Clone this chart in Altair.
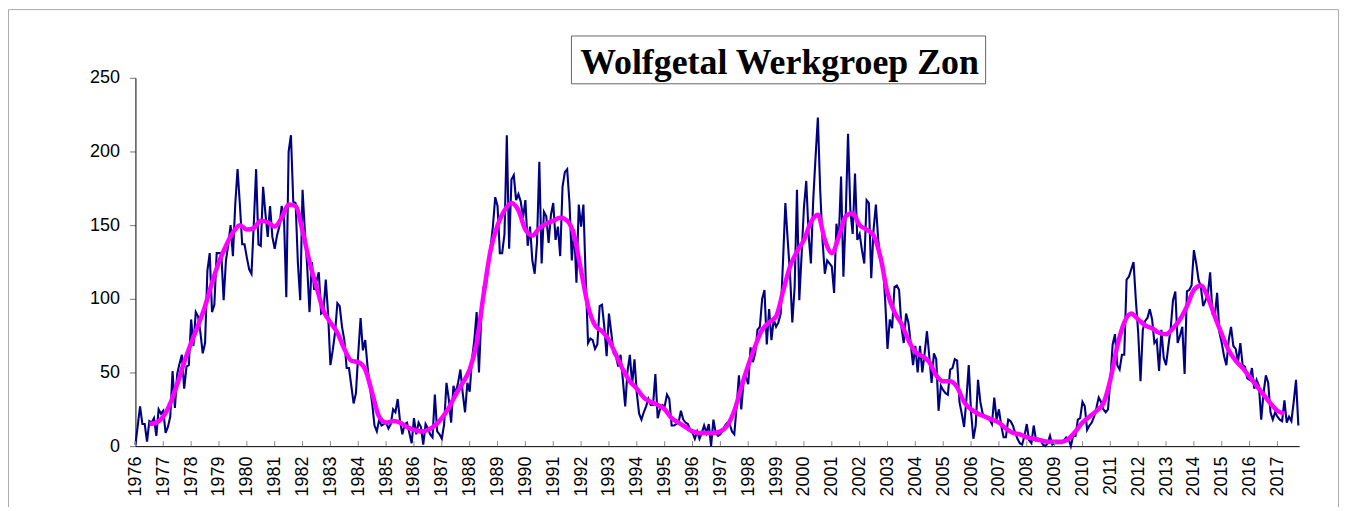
import altair as alt
import pandas as pd

# ---- data ----
years = list(range(1976, 2018))
y_ticks = [0, 50, 100, 150, 200, 250]
title_text = "Wolfgetal Werkgroep Zon"

# monthly Wolf numbers, Jan 1976 .. Oct 2017
raw_1976_1985 = [
    1, 14, 27, 15, 15, 3, 17, 16, 19, 7, 25, 22,
    24, 9, 13, 20, 51, 26, 49, 56, 62, 39, 54, 55,
    86, 68, 91, 88, 77, 63, 70, 119, 131, 91, 96, 131,
    131, 131, 99, 126, 137, 150, 129, 164, 188, 164, 137, 137,
    128, 120, 117, 151, 188, 137, 136, 176, 158, 142, 163, 142,
    134, 143, 149, 163, 155, 101, 200, 211, 166, 165, 124, 99,
    174, 146, 122, 91, 125, 106, 112, 118, 90, 91, 113, 90,
    55, 65, 77, 97, 95, 81, 72, 53, 53, 41, 29, 36,
    63, 87, 65, 72, 54, 40, 29, 14, 10, 18, 14, 15,
    16, 12, 15, 25, 23, 32, 17, 8, 15, 16, 9, 2,
]
raw_1986_1995 = [
    19, 8, 16, 13, 1, 15, 12, 8, 6, 35, 10, 8,
    5, 15, 43, 32, 16, 41, 36, 43, 52, 36, 23, 43,
    37, 59, 72, 91, 50, 88, 108, 108, 122, 135, 149, 169,
    163, 131, 131, 144, 211, 134, 181, 184, 167, 171, 166, 155,
    167, 136, 149, 126, 117, 138, 193, 124, 159, 156, 138, 157,
    165, 140, 149, 129, 176, 186, 188, 165, 126, 147, 111, 164,
    149, 164, 113, 70, 73, 72, 66, 69, 95, 96, 81, 61,
    90, 77, 63, 61, 54, 62, 45, 27, 51, 62, 42, 59,
    36, 22, 18, 23, 27, 32, 28, 28, 49, 19, 25, 28,
    27, 35, 32, 14, 14, 15, 16, 24, 18, 16, 15, 11,
]
raw_1996_2005 = [
    9, 5, 10, 5, 9, 14, 9, 15, 0, 18, 9, 7,
    8, 11, 14, 16, 15, 10, 8, 27, 48, 25, 44, 47,
    42, 67, 57, 63, 79, 81, 100, 106, 69, 93, 72, 86,
    81, 84, 90, 126, 165, 140, 117, 84, 108, 174, 99, 130,
    162, 180, 144, 124, 167, 196, 223, 174, 140, 117, 126, 124,
    122, 104, 151, 140, 183, 115, 156, 212, 160, 144, 185, 140,
    144, 133, 124, 167, 165, 114, 147, 164, 140, 126, 124, 99,
    66, 86, 80, 108, 109, 106, 81, 70, 90, 84, 70, 55,
    68, 50, 68, 50, 63, 78, 61, 43, 63, 59, 24, 41,
    38, 36, 35, 52, 53, 59, 58, 30, 22, 13, 32, 55,
]
raw_2006_2017 = [
    23, 5, 14, 45, 30, 22, 20, 19, 18, 15, 33, 18,
    25, 14, 6, 6, 18, 17, 14, 9, 5, 2, 1, 7,
    15, 4, 2, 14, 4, 5, 4, 1, 0, 2, 7, 1,
    2, 2, 2, 2, 4, 6, 5, 0, 7, 7, 18, 19,
    30, 27, 11, 14, 16, 20, 26, 33, 30, 25, 23, 25,
    45, 69, 76, 55, 52, 62, 62, 113, 115, 120, 125, 99,
    77, 44, 79, 85, 87, 93, 86, 70, 72, 51, 79, 60,
    55, 68, 80, 99, 105, 70, 75, 81, 49, 105, 106, 109,
    133, 124, 113, 108, 95, 99, 103, 118, 90, 88, 104, 77,
    70, 61, 55, 72, 81, 68, 66, 57, 70, 55, 54, 46,
    45, 53, 39, 45, 41, 18, 36, 48, 43, 23, 18, 23,
    20, 18, 17, 31, 16, 20, 17, 30, 45, 14,
]

# smoothed curve, read every quarter from mid-1976 to spring 2017
smooth_start = 1976.5
smooth_1976_1996 = [
    15, 16,
    20, 29, 42, 57,
    70, 82, 95, 111,
    125, 136, 145, 150,
    147, 148, 153, 152,
    149, 155, 164, 163,
    146, 125, 108, 92,
    84, 77, 66, 58,
    57, 52, 36, 20,
    16, 17, 16, 13,
    11, 10, 11, 14,
    19, 26, 35, 43,
    52, 70, 103, 133,
    150, 160, 165, 160,
    147, 143, 148, 151,
    153, 155, 153, 143,
    119, 95, 82, 78,
    72, 62, 52, 44,
    39, 33, 30, 28,
    25, 19, 16, 13,
    10, 9,
]
smooth_1996_2017 = [
    9, 9,
    10, 14, 24, 40,
    55, 68, 79, 84,
    88, 105, 122, 132,
    140, 152, 157, 140,
    131, 142, 156, 158,
    150, 147, 143, 128,
    104, 91, 83, 72,
    64, 61, 57, 48,
    44, 44, 40, 30,
    25, 22, 20, 18,
    16, 12, 9, 8,
    6, 5, 4, 3,
    3, 3, 5, 10,
    16, 20, 24, 29,
    45, 68, 84, 90,
    86, 82, 80, 77,
    76, 80, 86, 95,
    106, 109, 101, 88,
    76, 65, 58, 53,
    47, 41, 35, 29,
    24, 22,
]

raw_values = raw_1976_1985 + raw_1986_1995 + raw_1996_2005 + raw_2006_2017
raw_df = pd.DataFrame({
    "t": [1976 + i / 12 for i in range(len(raw_values))],
    "v": raw_values,
})
smooth_values = smooth_1976_1996 + smooth_1996_2017
smooth_df = pd.DataFrame({
    "t": [smooth_start + i / 4 for i in range(len(smooth_values))],
    "v": smooth_values,
})
years_df = pd.DataFrame({"t": years})
one = pd.DataFrame({"a": [0]})

W, H = 1169, 370
FONT = "Liberation Sans"

xs = alt.Scale(domain=[1976, 2017.78], nice=False, zero=False)
ys = alt.Scale(domain=[0, 250], nice=False)

x_enc = alt.X(
    "t:Q", scale=xs, title=None,
    axis=alt.Axis(
        values=years, format="d", labelAngle=-90, labelAlign="right",
        labelBaseline="middle", labelPadding=10, ticks=False, grid=False,
        domainColor="black", domainWidth=1, labelFont=FONT, labelFontSize=18,
        labelColor="black", labelFlush=False, labelOverlap=False,
    ),
)
y_enc = alt.Y(
    "v:Q", scale=ys, title=None,
    axis=alt.Axis(
        values=y_ticks, grid=False, tickSize=6, tickColor="#777",
        labelPadding=10, domainColor="black", domainWidth=1,
        labelFont=FONT, labelFontSize=18, labelColor="black",
    ),
)

frame = alt.Chart(one).mark_rect(
    fill="white", fillOpacity=0, stroke="#aaaaaa", strokeWidth=1
).encode(
    x=alt.value(-127.5), x2=alt.value(1208.5),
    y=alt.value(-68.5), y2=alt.value(600),
)

raw_line = alt.Chart(raw_df).mark_line(
    color="#000080", strokeWidth=2.1
).encode(x=x_enc, y=y_enc)

smooth_line = alt.Chart(smooth_df).mark_line(
    color="#FF00FF", strokeWidth=4.5, interpolate="monotone"
).encode(x=x_enc, y=y_enc)

year_ticks = alt.Chart(years_df).mark_rule(
    color="#888888", strokeWidth=1
).encode(x=x_enc, y=alt.value(H), y2=alt.value(H - 5))

title_box = alt.Chart(one).mark_rect(
    fill="white", stroke="#666666", strokeWidth=1
).encode(
    x=alt.value(438), x2=alt.value(854),
    y=alt.value(-42), y2=alt.value(6),
)
title_mark = alt.Chart(one).mark_text(
    text=title_text, font="Liberation Serif", fontSize=36,
    fontWeight="bold", color="black", align="center",
    baseline="alphabetic",
).encode(x=alt.value(647), y=alt.value(-4))

chart = alt.layer(
    frame, raw_line, smooth_line, year_ticks, title_box, title_mark
).properties(
    width=W, height=H,
    autosize=alt.AutoSizeParams(type="none"),
    padding={"left": 128, "top": 69, "right": 41, "bottom": 60},
    background="white",
).configure_view(stroke=None)

chart.save("out.html", embed_options={"renderer": "svg", "actions": False})
